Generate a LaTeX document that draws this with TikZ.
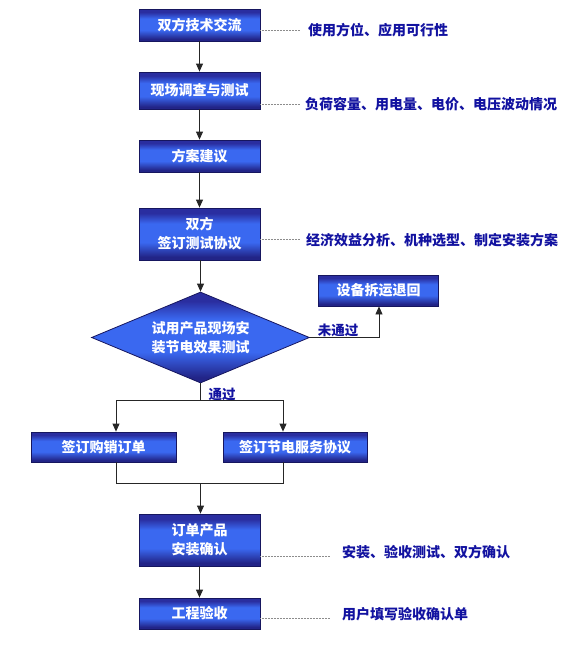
\documentclass[tikz,border=0pt]{standalone}
\usepackage{fontspec}
\setmainfont{Noto Sans CJK SC}
\usetikzlibrary{arrows.meta,shapes.geometric,calc}
\definecolor{btop}{RGB}{42,46,160}
\definecolor{bmid}{RGB}{58,104,240}
\definecolor{bbot}{RGB}{34,36,135}
\definecolor{bline}{RGB}{22,22,95}
\definecolor{tblue}{RGB}{18,18,160}
\pgfdeclareverticalshading{boxshade}{100bp}{color(0bp)=(bbot); color(25bp)=(bbot); color(28bp)=(bbot); color(42bp)=(bmid); color(60bp)=(bmid); color(70bp)=(btop); color(75bp)=(btop); color(100bp)=(btop)}
\tikzset{
  box/.style={draw=bline, line width=0.8pt, shading=boxshade, text=white,
    font=\fontsize{14}{19}\selectfont\bfseries, align=center, inner sep=0pt,
    minimum width=121pt},
  dia/.style={diamond, draw=bline, line width=0.8pt, shading=boxshade, text=white,
    font=\fontsize{14}{19}\selectfont\bfseries, align=center, inner sep=0pt,
    minimum width=218pt, minimum height=91pt, aspect=2.4},
  note/.style={text=tblue, font=\fontsize{14}{16}\selectfont\bfseries, anchor=west, inner sep=0pt},
  lbl/.style={text=tblue, font=\fontsize{13.5}{15}\selectfont\bfseries, inner sep=1pt},
  flow/.style={draw=black!85, line width=0.8pt},
  arr/.style={flow, -{Triangle[width=7pt,length=8pt]}},
  leader/.style={draw=black!45, line width=0.6pt, dash pattern=on 0.7pt off 0.8pt}
}
\begin{document}
\begin{tikzpicture}[x=1pt,y=-1pt]
\useasboundingbox (0,0) rectangle (562,662);
% boxes
\node[box, minimum height=32pt] (b1) at (199.5,25) {双方技术交流};
\node[box, minimum height=37pt] (b2) at (199.5,90.5) {现场调查与测试};
\node[box, minimum height=32pt] (b3) at (199.5,156) {方案建议};
\node[box, minimum height=52pt] (b4) at (199.5,234) {双方\\签订测试协议};
\node[dia] (d) at (200.5,337.5) {试用产品现场安\\装节电效果测试};
\node[box, minimum width=120pt, minimum height=31pt] (b6) at (378.5,290.5) {设备拆运退回};
\node[box, minimum width=145pt, minimum height=30pt] (b7) at (103.5,447) {签订购销订单};
\node[box, minimum width=144pt, minimum height=30pt] (b8) at (295,447) {签订节电服务协议};
\node[box, minimum height=52pt] (b9) at (199.5,540) {订单产品\\安装确认};
\node[box, minimum height=31pt] (b10) at (199.5,613.5) {工程验收};
% notes
\node[note] (n1) at (308,30) {使用方位、应用可行性};
\node[note] (n2) at (305,104) {负荷容量、用电量、电价、电压波动情况};
\node[note] (n4) at (306,240) {经济效益分析、机种选型、制定安装方案};
\node[note] (n9) at (342,552) {安装、验收测试、双方确认};
\node[note] (n10) at (342,614) {用户填写验收确认单};
% leaders
\coordinate (e1) at (300,30);
\coordinate (e2) at (300,104);
\coordinate (e4) at (300,239);
\coordinate (e9) at (330,556);
\coordinate (e10) at (330,618);
\draw[leader] (b1.east |- e1) -- (e1);
\draw[leader] (b2.east |- e2) -- (e2);
\draw[leader] (b4.east |- e4) -- (e4);
\draw[leader] (b9.east |- e9) -- (e9);
\draw[leader] (b10.east |- e10) -- (e10);
% flow
\draw[arr] (b1) -- (b2);
\draw[arr] (b2) -- (b3);
\draw[arr] (b3) -- (b4);
\draw[arr] (b4.south -| d.north) -- (d.north);
\coordinate (s) at (200.5,400);
\coordinate (sl) at (116,400);
\coordinate (sr) at (283,400);
\draw[flow] (d.south) -- (s);
\draw[flow] (sl) -- (sr);
\draw[arr] (sl) -- (sl |- b7.north);
\draw[arr] (sr) -- (sr |- b8.north);
\coordinate (ml) at (116,483);
\coordinate (mr) at (283,483);
\coordinate (m) at (200.5,483);
\draw[flow] (ml |- b7.south) -- (ml) -- (mr) -- (mr |- b8.south);
\draw[arr] (m) -- (m |- b9.north);
\draw[arr] (b9) -- (b10);
\coordinate (f) at (379,337.5);
\draw[arr] (d.east) -- (f) -- (f |- b6.south);
\node[lbl, anchor=south] (no) at (338,338) {未通过};
\node[lbl] (yes) at (222,394) {通过};
\end{tikzpicture}
\end{document}
